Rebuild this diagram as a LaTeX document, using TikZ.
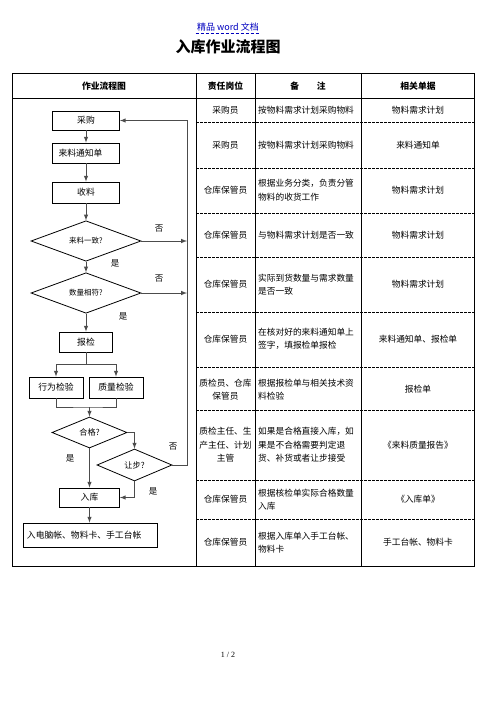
\documentclass[tikz,border=0pt]{standalone}
\usepackage{fontspec}
\setmainfont{Noto Sans CJK SC}
\newfontfamily\pagefont{Liberation Serif}
\usepackage{tikz}
\usetikzlibrary{shapes.geometric}

\begin{document}
\begin{tikzpicture}[x = 1pt, y = -1pt,
  box/.style = {draw, thick, inner sep = 0pt, minimum width = 67pt, minimum height = 20pt, font = \fontsize{8.8}{10}\selectfont},
  choice/.style = {draw, thick, diamond, inner sep = 0pt, font = \fontsize{7.5}{9}\selectfont},
  link/.style = {color = black!70, line width = 1pt},
  arr/.style = {link, -latex},
  rowline/.style = {dash pattern = on 2.5pt off 1.5pt, line width = 0.6pt},
  post/.style = {align = center, font = \fontsize{8.7}{13.5}\selectfont},
  note/.style = {anchor = west, text width = 100pt, align = left, inner sep = 1pt, font = \fontsize{8.7}{13.5}\selectfont},
  doc/.style = {align = center, font = \fontsize{8.7}{13.5}\selectfont},
  lbl/.style = {font = \fontsize{8.5}{10}\selectfont}]
\useasboundingbox (0, 0) rectangle (496, 702);
%\draw[very thin, color = gray](0, 0) grid[step = 10] (496, 702);
% page head
\node (wm) at (228, 27) [text = blue!75!black, font = \fontsize{9}{10}\selectfont] {精品 word 文档};
\draw [blue!75!black, densely dashed] ([xshift = 2pt, yshift = 2pt]wm.south west) -- ([xshift = -2pt, yshift = 2pt]wm.south east);
\node (title) at (228, 47) [font = \fontsize{15}{17}\selectfont\bfseries] {入库作业流程图};
% table frame
\draw [line width = 0.9pt] (12, 73) rectangle (474, 566);
\draw [line width = 0.9pt] (12, 98) -- (474, 98);
\foreach \x in {196, 255, 361} \draw [line width = 0.9pt] (\x, 73) -- (\x, 566);
\foreach \y in {122, 168, 213, 257, 312, 367, 410, 480, 519} \draw [rowline] (196, \y) -- (474, \y);
\node (h1) at (104, 86) [font = \fontsize{8.8}{10}\selectfont\bfseries] {作业流程图};
\node (h2) at (225.5, 86) [font = \fontsize{8.8}{10}\selectfont\bfseries] {责任岗位};
\node (h3) at (308, 86) [font = \fontsize{8.8}{10}\selectfont\bfseries] {备\hspace{2em}注};
\node (h4) at (418, 86) [font = \fontsize{8.8}{10}\selectfont\bfseries] {相关单据};
% rows
\node (p1) at (225.5, 110) [post] {采购员};
\node (n1) at (257, 110) [note] {按物料需求计划采购物料};
\node (d1) at (418, 110) [doc] {物料需求计划};
\node (p2) at (225.5, 145) [post] {采购员};
\node (n2) at (257, 145) [note] {按物料需求计划采购物料};
\node (d2) at (418, 145) [doc] {来料通知单};
\node (p3) at (225.5, 190) [post] {仓库保管员};
\node (n3) at (257, 190) [note] {根据业务分类，负责分管\\物料的收货工作};
\node (d3) at (418, 190) [doc] {物料需求计划};
\node (p4) at (225.5, 235) [post] {仓库保管员};
\node (n4) at (257, 235) [note] {与物料需求计划是否一致};
\node (d4) at (418, 235) [doc] {物料需求计划};
\node (p5) at (225.5, 284.5) [post] {仓库保管员};
\node (n5) at (257, 284.5) [note] {实际到货数量与需求数量\\是否一致};
\node (d5) at (418, 284.5) [doc] {物料需求计划};
\node (p6) at (225.5, 339) [post] {仓库保管员};
\node (n6) at (257, 339) [note] {在核对好的来料通知单上\\签字，填报检单报检};
\node (d6) at (418, 339) [doc] {来料通知单、报检单};
\node (p7) at (225.5, 389.5) [post] {质检员、仓库\\保管员};
\node (n7) at (257, 389.5) [note] {根据报检单与相关技术资\\料检验};
\node (d7) at (418, 389.5) [doc] {报检单};
\node (p8) at (225.5, 445) [post] {质检主任、生\\产主任、计划\\主管};
\node (n8) at (257, 445) [note] {如果是合格直接入库，如\\果是不合格需要判定退\\货、补货或者让步接受};
\node (d8) at (418, 445) [doc] {《来料质量报告》};
\node (p9) at (225.5, 499.5) [post] {仓库保管员};
\node (n9) at (257, 499.5) [note] {根据核检单实际合格数量\\入库};
\node (d9) at (418, 499.5) [doc] {《入库单》};
\node (p10) at (225.5, 542.5) [post] {仓库保管员};
\node (n10) at (257, 542.5) [note] {根据入库单入手工台帐、\\物料卡};
\node (d10) at (418, 542.5) [doc] {手工台帐、物料卡};
% flow chart
\node (cg) at (86, 120.5) [box, minimum height = 19pt] {采购};
\node (tz) at (86, 153) [box, text width = 55pt, align = left] {来料通知单};
\node (sl) at (86, 192.5) [box, minimum height = 21pt] {收料};
\node (yz) at (86, 241) [choice, minimum width = 110pt, minimum height = 38pt] {来料一致?\hspace{12pt}};
\node (xf) at (86, 293) [choice, minimum width = 110pt, minimum height = 39pt] {数量相符?\hspace{12pt}};
\node (bj) at (86, 342) [box, minimum width = 53pt] {报检};
\node (xw) at (56, 387.5) [box, minimum width = 54pt, minimum height = 21pt] {行为检验};
\node (zl) at (116, 387.5) [box, minimum width = 54pt, minimum height = 21pt] {质量检验};
\node (hg) at (89.5, 432.5) [choice, minimum width = 75pt, minimum height = 31pt, font = \fontsize{8.2}{9}\selectfont] {合格?};
\node (rb) at (134.5, 465) [choice, minimum width = 75pt, minimum height = 32pt, font = \fontsize{8.2}{9}\selectfont] {让步?};
\node (rk) at (89.5, 497.5) [box, minimum width = 60pt, minimum height = 19pt] {入库};
\node (rdn) at (90, 535) [box, minimum width = 134pt, minimum height = 24pt, text width = 126pt, align = left] {入电脑帐、物料卡、手工台帐};
\coordinate (fb) at (187, 120.5);
\coordinate (split) at (86, 364);
\coordinate (join) at (89.5, 407);
\draw [arr] (cg) -- (tz);
\draw [arr] (tz) -- (sl);
\draw [arr] (sl) -- (yz);
\draw [arr] (yz) -- (xf);
\draw [arr] (xf) -- (bj);
\draw [link] (bj) -- (split);
\draw [arr] (split) -| (xw.north);
\draw [arr] (split) -| (zl.north);
\draw [link] (xw.south) |- (join) -| (zl.south);
\draw [arr] (join) -- (hg.north);
\draw [arr] (hg.east) -| (rb.north);
\draw [arr] (hg.south) -- (rk.north);
\draw [arr] (rb.south) |- (rk.east);
\draw [arr] (rb.east) -| (fb) -- (cg.east);
\draw [arr] (yz.east) -- (yz.east -| fb);
\draw [arr] (xf.east) -- (xf.east -| fb);
\draw [arr] (rk.south) -- (rk.south |- rdn.north);
\node (no1) at (159, 229) [lbl] {否};
\node (yes1) at (115, 263) [lbl] {是};
\node (no2) at (159, 279) [lbl] {否};
\node (yes2) at (123, 316) [lbl] {是};
\node (yes3) at (70, 458) [lbl] {是};
\node (no3) at (173, 447) [lbl] {否};
\node (yes4) at (153, 491) [lbl] {是};
% page number
\node (pg) at (228, 655) [font = \pagefont\fontsize{8}{9}\selectfont] {1 / 2};
\end{tikzpicture}
\end{document}
